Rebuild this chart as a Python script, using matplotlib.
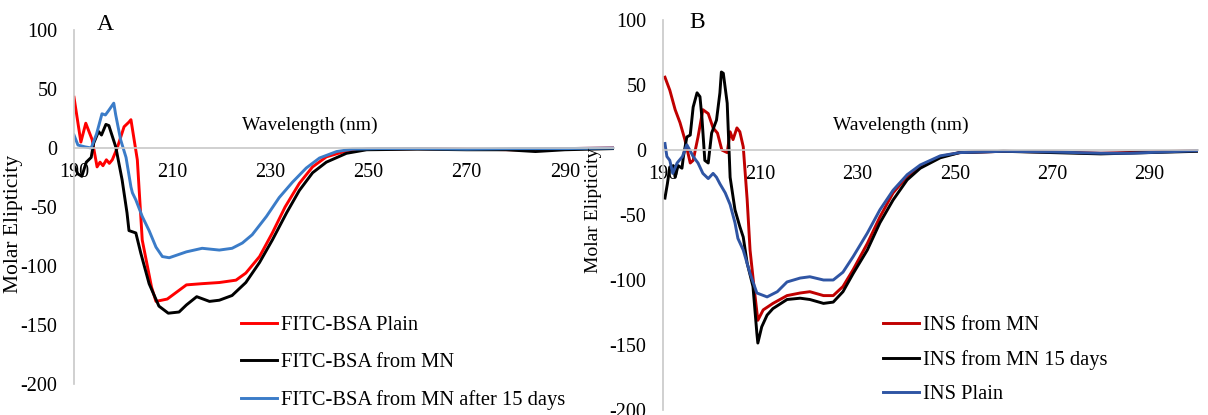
import matplotlib
matplotlib.use("Agg")
import matplotlib.pyplot as plt

plt.rcParams['font.family'] = ['Liberation Serif', 'DejaVu Serif']

# ---- Panel A: FITC-BSA ----
wl_a_red = [190, 191.4, 192.4, 193.7, 194.7, 195.3, 195.9, 196.6, 197.2, 197.8, 198.8, 200.2,
            201.2, 201.6, 202.9, 203.9, 205.8, 206.7, 209, 212.9, 216, 219.6, 223, 225,
            227.8, 230.4, 233, 235.9, 238.6, 241.4, 245.5, 249.6, 260, 270, 280, 290, 300]
a_red = [43, 5, 21, 7, -16, -12, -15, -10, -13, -10, 0, 18,
         22, 24, -10, -78, -118, -130, -128, -116, -115, -114, -112, -106,
         -92, -72, -50, -30, -16, -7.5, -2.5, -1, -0.5, -1, -1.5, -0.5, 0]

wl_a_black = [190, 190.8, 191.6, 192.5, 193.5, 194, 195, 195.6, 196.5, 197.1, 198.5, 199.8,
              200.8, 201.2, 202.6, 203.6, 205.3, 207.3, 209.2, 211.4, 212.9, 215, 217.6, 219.6,
              222.2, 225, 227.8, 230.4, 233.3, 235.9, 238.6, 241.4, 245.5, 249.6, 260, 270,
              278, 284, 290, 300]
a_black = [-15, -22, -24, -12, -8, 4, 14, 11, 20, 19, 1, -27,
           -55, -70, -72, -89, -115, -134, -140, -139, -133, -126, -130, -129,
           -125, -114, -97, -78, -55, -36, -21, -12, -4.5, -1.5, -1, -1.5,
           -1.5, -3, -1.5, -0.5]

wl_a_blue = [190, 190.8, 192.2, 193.5, 194.6, 195.7, 196.4, 197.1, 198.1, 198.5, 199.5, 200.6,
             201.6, 201.9, 202.6, 203.9, 205.3, 206.7, 208, 209.4, 210.8, 212.9, 216.1, 219.6,
             222.2, 224.3, 226.3, 229.2, 231.8, 234.5, 237.3, 240, 243.5, 246.7, 252, 260,
             270, 280, 290, 300]
a_blue = [11, 2.5, 1, 0, 12, 29, 28, 32, 38, 28, 7, -8,
          -33, -38, -44, -58, -70, -84, -92, -93, -91, -88, -85, -86.5,
          -85, -80.5, -73.5, -58, -42, -29, -17, -8.5, -3, -1, -0.5, -0.5,
          -1, -0.5, -0.5, 0]

# ---- Panel B: INS ----
wl_b_red = [190.4, 191.4, 192.5, 193.5, 194.5, 195.6, 196.2, 197.2, 198.2, 199.3, 200.3, 201.2,
            202.1, 203.2, 203.8, 204.4, 205.2, 205.8, 206.5, 207.3, 207.9, 208.7, 209.5, 210.6,
            212.6, 215.5, 218.2, 220.2, 223, 225, 227, 229.1, 232, 234.6, 237.3, 240.2,
            242.9, 247, 251, 260, 270, 280, 290, 300]
b_red = [56, 46, 31, 21, 8, -10, -8, 10, 31, 28, 17, 13,
         0, -2, 14, 8, 17, 14, 2.5, -38, -77, -105, -131, -123,
         -118, -112, -110, -109, -112, -112, -105, -92, -72, -51.5, -33, -20.5,
         -13, -5, -2, -1, -1.5, -2.5, -1.5, -0.5]

wl_b_black = [190.4, 190.9, 191.4, 191.8, 192.1, 192.5, 193.1, 193.9, 194.2, 194.9, 195.6, 196.2,
              197.0, 197.6, 198.0, 198.6, 199.3, 200.0, 201.0, 201.7, 202.0, 202.4, 203.2, 203.8,
              204.8, 205.8, 206.5, 207.3, 208.5, 209.3, 209.5, 210.3, 211.4, 212.6, 215.5, 218.2,
              220.2, 223, 225, 227, 229.1, 232, 234.6, 237.3, 240.2, 242.9, 247, 251,
              260, 270, 280, 290, 300]
b_black = [-37, -26, -13, -15, -12, -21, -12, -14, -5, 10, 11.5, 33,
           44, 41, 25, -8, -10, 13, 23, 44, 60, 59, 36, -21,
           -46, -59, -67, -87, -105, -141, -148.5, -136, -127, -122, -115, -114,
           -115, -118, -117, -109, -95, -77, -56, -38.5, -23, -14, -6, -2,
           -1, -2, -3, -2, -1]

wl_b_blue = [190.4, 190.8, 191.4, 192.0, 192.9, 194.0, 194.9, 195.5, 196.2, 197.2, 198.2, 199.3,
             200.3, 201.0, 201.7, 202.8, 203.8, 204.8, 205.4, 206.5, 207.9, 209.3, 211.4, 213.5,
             215.5, 218.2, 220.2, 223, 225, 227, 229.1, 232, 234.6, 237.3, 240.2, 242.9,
             247, 251, 260, 270, 280, 286, 300]
b_blue = [5, -5, -8, -18, -10, -5, 4, 0, -5, -10, -18, -22,
          -18, -21, -26, -33, -42, -56, -68, -77, -95, -110, -113, -109,
          -101.5, -98.5, -97.5, -100, -100, -94, -82, -64, -46, -31, -19, -11.5,
          -4.5, -2, -1, -1.5, -2.5, -2.5, -0.5]

x_ticks = [190, 210, 230, 250, 270, 290]
y_ticks = [-200, -150, -100, -50, 0, 50, 100]

W, H = 1208, 415
fig = plt.figure(figsize=(W / 100, H / 100), dpi=100)


def px_axes(x0, x1, y0, y1):
    # pixel box -> figure fraction
    return fig.add_axes([x0 / W, 1 - y1 / H, (x1 - x0) / W, (y1 - y0) / H])


def style_axes(ax):
    ax.set_xlim(190, 300)
    ax.set_ylim(-200, 100)
    for s in ['top', 'right']:
        ax.spines[s].set_visible(False)
    ax.spines['left'].set_position(('data', 190))
    ax.spines['bottom'].set_position(('data', 0))
    ax.spines['left'].set_color('#c8c8c8')
    ax.spines['bottom'].set_color('#c8c8c8')
    ax.spines['left'].set_linewidth(1.2)
    ax.spines['bottom'].set_linewidth(1.2)
    ax.set_xticks(x_ticks)
    ax.set_yticks(y_ticks)
    ax.set_yticklabels([str(v) for v in y_ticks])
    ax.tick_params(axis='both', length=0, labelsize=14.5)
    ax.tick_params(axis='y', pad=12)
    ax.tick_params(axis='x', pad=11)
    ax.patch.set_alpha(0)


lw = 2.1

# Panel A
axA = px_axes(74, 614, 30, 384)
style_axes(axA)
axA.plot(wl_a_red, a_red, color='#ff0000', lw=lw, label='FITC-BSA Plain')
axA.plot(wl_a_black, a_black, color='#000000', lw=lw, label='FITC-BSA from MN')
axA.plot(wl_a_blue, a_blue, color='#3b7cc8', lw=lw, label='FITC-BSA from MN after 15 days')
axA.text(238, 19.5, 'Wavelength (nm)', fontsize=14, ha='center', va='center')
axA.legend(loc='upper left', bbox_to_anchor=(241 / W, 1 - 316 / H),
           bbox_transform=fig.transFigure, frameon=False, fontsize=14.8,
           handlelength=1.75, handletextpad=0.2, labelspacing=0.86,
           borderpad=0, borderaxespad=0)

# Panel B
axB = px_axes(663, 1198, 20, 410)
style_axes(axB)
axB.plot(wl_b_red, b_red, color='#c00000', lw=lw, label='INS from MN')
axB.plot(wl_b_black, b_black, color='#000000', lw=lw, label='INS from MN 15 days')
axB.plot(wl_b_blue, b_blue, color='#2f55a4', lw=lw, label='INS Plain')
axB.text(238.8, 19, 'Wavelength (nm)', fontsize=14, ha='center', va='center')
axB.legend(loc='upper left', bbox_to_anchor=(883 / W, 1 - 316 / H),
           bbox_transform=fig.transFigure, frameon=False, fontsize=14.8,
           handlelength=1.75, handletextpad=0.2, labelspacing=0.72,
           borderpad=0, borderaxespad=0)

# panel letters and y labels
fig.text(105 / W, 1 - 25 / H, 'A', fontsize=17, ha='center', va='center')
fig.text(697 / W, 1 - 22 / H, 'B', fontsize=17, ha='center', va='center')
fig.text(14 / W, 1 - 224 / H, 'Molar Elipticity', fontsize=15.5, rotation=90,
         ha='center', va='center')
fig.text(594 / W, 1 - 210 / H, 'Molar Elipticity', fontsize=14, rotation=90,
         ha='center', va='center')

fig.savefig('out.png', dpi=100)
